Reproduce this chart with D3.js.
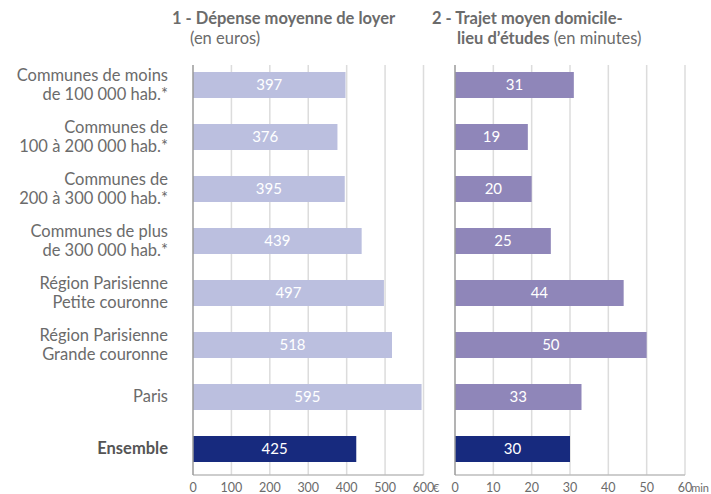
<!DOCTYPE html>
<html>
<head>
<meta charset="utf-8">
<script src="https://cdn.jsdelivr.net/npm/d3@7"></script>
<style>
  body { margin: 0; background: #fff; }
  text { font-family: Lato, "Open Sans", sans-serif; }
</style>
</head>
<body>
<svg id="chart" width="711" height="494"></svg>
<script>
var categories = [
  ["Communes de moins", "de 100 000 hab.*"],
  ["Communes de", "100 à 200 000 hab.*"],
  ["Communes de", "200 à 300 000 hab.*"],
  ["Communes de plus", "de 300 000 hab.*"],
  ["Région Parisienne", "Petite couronne"],
  ["Région Parisienne", "Grande couronne"],
  ["Paris"],
  ["Ensemble"]
];
var loyer = [397, 376, 395, 439, 497, 518, 595, 425];
var trajet = [31, 19, 20, 25, 44, 50, 33, 30];
var loyerTicks = [0, 100, 200, 300, 400, 500, 600];
var trajetTicks = [0, 10, 20, 30, 40, 50, 60];

var svg = d3.select("#chart");
var grey = "#6b6b6b";

var y = d3.scaleBand()
  .domain(d3.range(categories.length))
  .range([59, 475])
  .paddingInner(0.5)
  .paddingOuter(0.25);

// category labels
var lab = svg.append("g")
  .selectAll("text")
  .data(categories)
  .enter()
  .append("text")
  .attr("text-anchor", "end")
  .attr("font-size", 16.5)
  .attr("fill", (d, i) => i == 7 ? "#555" : grey)
  .attr("font-weight", (d, i) => i == 7 ? "bold" : "normal")
  .attr("transform", (d, i) => `translate(168, ${y(i) + y.bandwidth() / 2})`);
lab.each(function(d) {
  var t = d3.select(this);
  d.forEach((line, k) => {
    t.append("tspan")
      .attr("x", 0)
      .attr("y", (k - (d.length - 1) / 2) * 19 + 5)
      .text(line);
  });
});

function panel(values, ticks, x0, x1, color, unit, unitX, anchor) {
  var x = d3.scaleLinear().domain([0, ticks[ticks.length - 1]]).range([x0, x1]);
  var g = svg.append("g");

  g.selectAll("line.grid")
    .data(ticks.slice(1))
    .enter()
    .append("line")
    .attr("x1", d => x(d)).attr("x2", d => x(d))
    .attr("y1", 65).attr("y2", 475)
    .attr("stroke", "#dcdcdc")
    .attr("stroke-width", 1.5);

  g.append("line")
    .attr("x1", x0).attr("x2", x1)
    .attr("y1", 475).attr("y2", 475)
    .attr("stroke", "#bdbdbd").attr("stroke-width", 1.5);

  g.selectAll("rect")
    .data(values)
    .enter()
    .append("rect")
    .attr("x", x(0))
    .attr("y", (d, i) => y(i))
    .attr("width", d => x(d) - x(0))
    .attr("height", y.bandwidth())
    .attr("fill", (d, i) => i == 7 ? "#172a7e" : color);

  g.selectAll("text.val")
    .data(values)
    .enter()
    .append("text")
    .attr("x", d => (x(0) + x(d)) / 2)
    .attr("y", (d, i) => y(i) + y.bandwidth() / 2 + 5)
    .attr("text-anchor", "middle")
    .attr("font-size", 15)
    .attr("fill", "#fff")
    .text(d => d);

  g.append("line")
    .attr("x1", x0).attr("x2", x0)
    .attr("y1", 65).attr("y2", 475)
    .attr("stroke", "#9a9a9a").attr("stroke-width", 1.5);

  g.selectAll("text.tick")
    .data(ticks)
    .enter()
    .append("text")
    .attr("x", d => x(d))
    .attr("y", 492)
    .attr("text-anchor", "middle")
    .attr("font-size", 12.5)
    .attr("fill", grey)
    .text(d => d);

  g.append("text")
    .attr("x", unitX)
    .attr("y", 492)
    .attr("text-anchor", anchor)
    .attr("font-size", 11)
    .attr("fill", grey)
    .text(unit);
}

panel(loyer, loyerTicks, 193, 423.5, "#bbbfdf", "€", 433, "start");
panel(trajet, trajetTicks, 455, 685, "#8f86b9", "min", 709, "end");

// titles
svg.append("text").attr("x", 172).attr("y", 24).attr("font-size", 16.5).attr("fill", grey)
  .attr("font-weight", "bold").text("1 - Dépense moyenne de loyer");
svg.append("text").attr("x", 190).attr("y", 44).attr("font-size", 16.5).attr("fill", grey)
  .text("(en euros)");

svg.append("text").attr("x", 432).attr("y", 24).attr("font-size", 16.5).attr("fill", grey)
  .attr("font-weight", "bold").text("2 - Trajet moyen domicile-");
var t2 = svg.append("text").attr("x", 457).attr("y", 44).attr("font-size", 16.5).attr("fill", grey);
t2.append("tspan").attr("font-weight", "bold").text("lieu d’études");
t2.append("tspan").text(" (en minutes)");
</script>
</body>
</html>
